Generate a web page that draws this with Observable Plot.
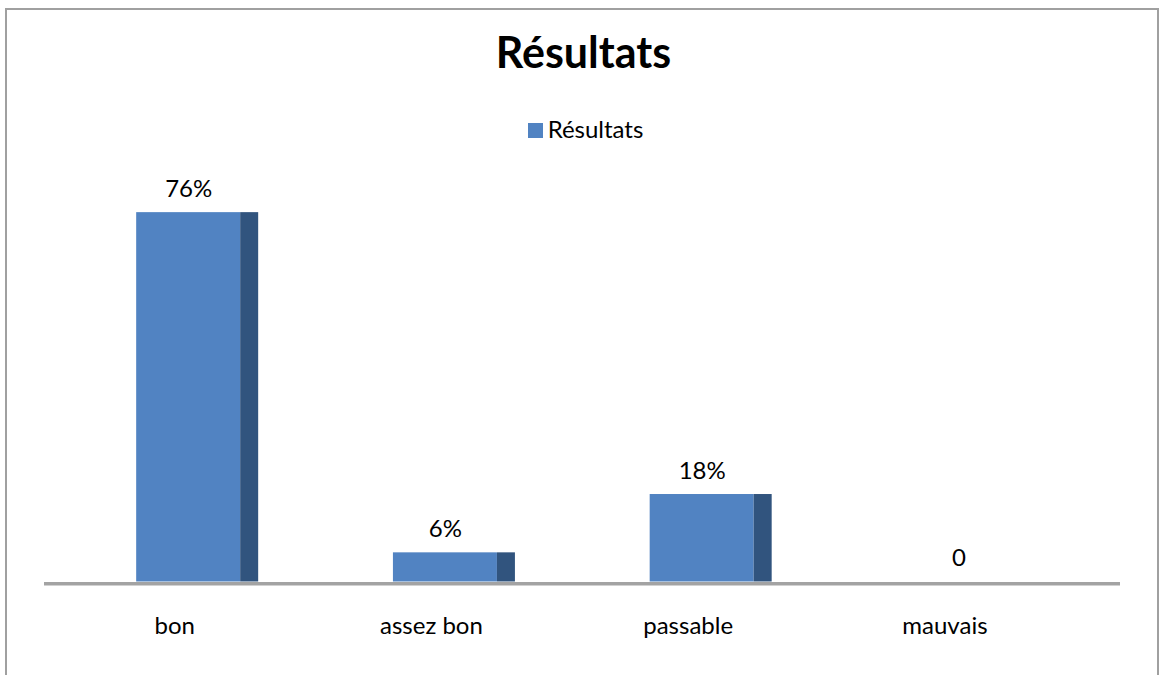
<!DOCTYPE html>
<html lang="fr">
<head>
<meta charset="utf-8">
<title>Résultats</title>
<script src="https://cdn.jsdelivr.net/npm/d3@7"></script>
<script src="https://cdn.jsdelivr.net/npm/@observablehq/plot@0.6"></script>
<style>
  html, body { margin: 0; padding: 0; background: #fff; }
  body { width: 1159px; height: 675px; overflow: hidden; position: relative; font-family: Lato, "Open Sans", sans-serif; color: #000; }
  #border { position: absolute; left: 5px; top: 8px; width: 1154px; height: 720px; box-sizing: border-box; border: 2px solid #a0a0a0; }
  #title { position: absolute; left: 0; top: 30px; width: 1159px; margin: 0; padding-left: 8px; box-sizing: border-box;
           text-align: center; font: bold 43px/1 Lato, sans-serif; }
  #legend { position: absolute; left: 0; top: 117px; width: 1159px; padding-left: 12px; box-sizing: border-box;
            display: flex; justify-content: center; align-items: baseline; font: 24px/1 Lato, sans-serif; }
  #legend .swatch { display: inline-block; width: 15px; height: 15px; margin-right: 5px; }
  #chart { position: absolute; left: 0; top: 150px; }
</style>
</head>
<body>
<div id="border"></div>
<h2 id="title">Résultats</h2>
<div id="legend"></div>
<div id="chart"></div>
<script>
// Share of results per grade
const categories = ["bon", "assez bon", "passable", "mauvais"];
const values = [76, 6, 18, 0];
const seriesName = "Résultats";

const frontColor = "#5183c2";
const sideColor = "#31547e";

const rows = categories.map((category, i) => ({category, value: values[i]}));
const formatValue = v => (v === 0 ? "0" : `${v}%`);

// legend: one swatch for the single series
const legend = d3.select("#legend");
const item = legend.append("span");
item.append("span").attr("class", "swatch").style("background", frontColor);
item.append("span").text(seriesName);

// bar geometry inside each category band
const step = 256.75;
const faceWidth = 104;
const sideWidth = 18;
const half = step / 2;

const chart = Plot.plot({
  width: 1159,
  height: 525,
  marginTop: 0,
  marginBottom: 93.5,
  marginLeft: 44,
  marginRight: 39,
  style: {fontFamily: "Lato, sans-serif", fontSize: "24px", color: "#000", background: "transparent", overflow: "visible"},
  x: {type: "band", domain: categories, range: [59.8, 59.8 + 4 * step], padding: 0, round: false, axis: null},
  y: {domain: [0, 80], range: [431.5, 431.5 - 80 * 4.86], axis: null},
  marks: [
    // front face of each column
    Plot.barY(rows, {x: "category", y: "value", fill: frontColor,
      insetLeft: half - faceWidth / 2, insetRight: half - faceWidth / 2}),
    // shaded side face
    Plot.barY(rows, {x: "category", y: "value", fill: sideColor,
      insetLeft: half + faceWidth / 2, insetRight: half - faceWidth / 2 - sideWidth}),
    // floor line
    Plot.ruleY([0], {stroke: "#a3a3a3", strokeWidth: 3.5, dy: 1.75}),
    // value labels
    Plot.text(rows, {x: "category", y: "value", text: d => formatValue(d.value),
      lineAnchor: "bottom", dy: -16, fontSize: 24}),
    Plot.axisX({tickSize: 0, tickPadding: 34.5, dx: -14, fontSize: 24, label: null})
  ]
});
document.getElementById("chart").appendChild(chart);
</script>
</body>
</html>
